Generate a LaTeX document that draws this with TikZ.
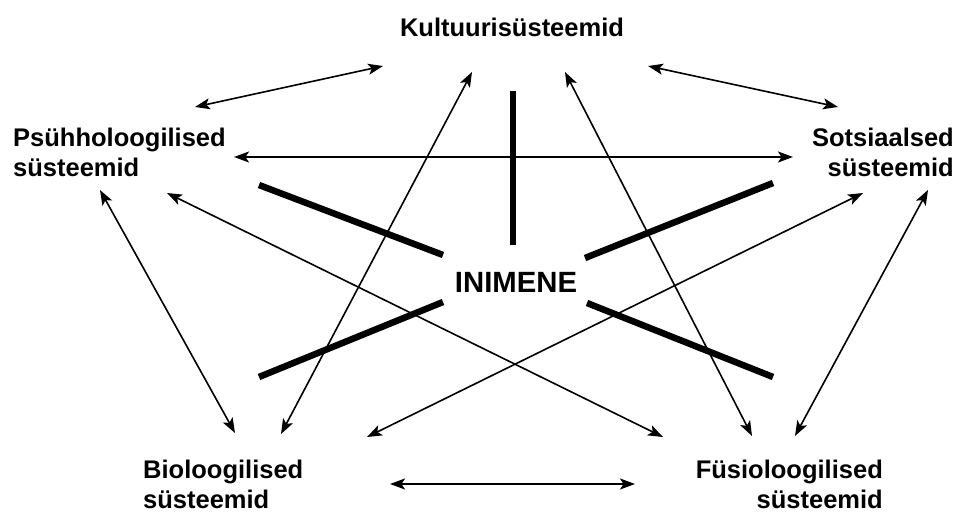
\documentclass[tikz,border=0pt]{standalone}
\usepackage{fontspec}
\setmainfont{Liberation Sans}
\usetikzlibrary{arrows.meta}

\tikzset{
    sysname/.style={inner sep=0pt, font=\fontsize{25.5}{30}\selectfont\bfseries},
    link/.style={line width=1.6pt, {Stealth[length=15pt,width=11pt,inset=3.5pt]}-{Stealth[length=15pt,width=11pt,inset=3.5pt]}},
    spoke/.style={line width=6.5pt}
}

\begin{document}
\begin{tikzpicture}[x=1pt, y=-1pt]
\useasboundingbox (0,0) rectangle (961,513);

% === System labels ===
\node[sysname, anchor=base] (kul) at (512,37) {Kultuurisüsteemid};
\node[sysname, anchor=base west, align=left] (psy) at (13,177) {Psühholoogilised\\süsteemid};
\node[sysname, anchor=base east, align=right] (soc) at (954,177) {Sotsiaalsed\\süsteemid};
\node[sysname, anchor=base west, align=left] (bio) at (143,508) {Bioloogilised\\süsteemid};
\node[sysname, anchor=base east, align=right] (fys) at (883,508) {Füsioloogilised\\süsteemid};

% === Centre ===
\node[inner sep=0pt, font=\fontsize{29.3}{35}\selectfont\bfseries, anchor=base] (ini) at (516,292) {INIMENE};

% spokes round the centre
\foreach \p/\q in {{(513,91)}/{(513,245)}, {(259,185)}/{(443,255)}, {(585,258)}/{(773,183)},
                   {(259,377)}/{(443,302)}, {(587,303)}/{(773,377)}}
    {\draw[spoke] \p -- \q;}

% === Arrow ends ===
\coordinate (kul-psy) at (383,66);  \coordinate (psy-kul) at (195,107);
\coordinate (kul-soc) at (648,66);  \coordinate (soc-kul) at (838,107);
\coordinate (psy-soc) at (234,157); \coordinate (soc-psy) at (793,157);
\coordinate (kul-bio) at (472,72);  \coordinate (bio-kul) at (281,434);
\coordinate (kul-fys) at (565,72);  \coordinate (fys-kul) at (752,436);
\coordinate (psy-bio) at (100,190); \coordinate (bio-psy) at (235,433);
\coordinate (psy-fys) at (167,193); \coordinate (fys-psy) at (663,437);
\coordinate (soc-bio) at (863,193); \coordinate (bio-soc) at (367,437);
\coordinate (soc-fys) at (928,190); \coordinate (fys-soc) at (795,436);
\coordinate (bio-fys) at (390,484); \coordinate (fys-bio) at (635,484);

% === Links ===
\foreach \a/\b in {kul-psy/psy-kul, kul-soc/soc-kul, psy-soc/soc-psy, kul-bio/bio-kul,
                   kul-fys/fys-kul, psy-bio/bio-psy, psy-fys/fys-psy, soc-bio/bio-soc,
                   soc-fys/fys-soc, bio-fys/fys-bio}
    {\draw[link] (\a) -- (\b);}

\end{tikzpicture}
\end{document}
